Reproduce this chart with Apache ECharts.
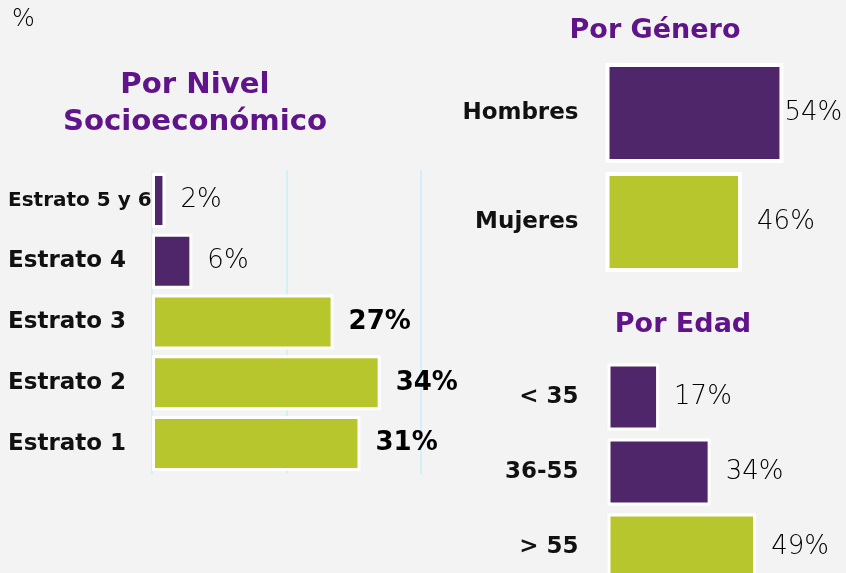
<!DOCTYPE HTML>
<html>
<head>
<meta charset="utf-8">
<title></title>
<style type="text/css">
html, body { margin: 0; padding: 0; background: #f3f3f3; }
#main { width: 846px; height: 573px; }
</style>
</head>
<body>
<div id="main"></div>
<script type="text/javascript" src="https://cdn.jsdelivr.net/npm/echarts@6/dist/echarts.min.js"></script>
<script type="text/javascript">
var nivelCats = ['Estrato 5 y 6', 'Estrato 4', 'Estrato 3', 'Estrato 2', 'Estrato 1'];
var nivelVals = [2, 6, 27, 34, 31];
var generoCats = ['Hombres', 'Mujeres'];
var generoVals = [54, 46];
var edadCats = ['< 35', '36-55', '> 55'];
var edadVals = [17, 34, 49];
var nivelTicks = [0, 20, 40];

var purple = '#4f2669', green = '#b8c62d', titleColor = '#601489';
var font = 'DejaVu Sans';

// colores y estilo de etiqueta por barra
var nivelTone = [purple, purple, green, green, green];
var nivelBold = [false, false, true, true, true];
var generoTone = [purple, green];
var generoGap = [1, 15];
var edadTone = [purple, purple, green];

function valueLabel(bold, gap) {
	return {
		show: true,
		position: 'right',
		distance: gap,
		formatter: '{c}%',
		fontFamily: font,
		fontSize: 26,
		fontWeight: bold ? 'bold' : 200,
		color: '#000'
	};
}

function catAxis(idx, cats, extra) {
	var ax = {
		type: 'category',
		gridIndex: idx,
		data: cats,
		inverse: true,
		axisLine: { show: false },
		axisTick: { show: false },
		axisLabel: {
			fontFamily: font,
			fontSize: 23,
			fontWeight: 'bold',
			color: '#111',
			margin: 29
		}
	};
	if (extra) extra(ax);
	return ax;
}

var option = {
	backgroundColor: '#f3f3f3',
	animation: false,
	title: [{
		text: '%', left: 12, top: 8, padding: 0,
		textStyle: { fontFamily: font, fontSize: 24, fontWeight: 200, color: '#000' }
	}, {
		text: 'Por Nivel\nSocioeconómico', left: 195, top: 67, padding: 0, textAlign: 'center',
		textStyle: { fontFamily: font, fontSize: 29.2, lineHeight: 37, fontWeight: 'bold', color: titleColor }
	}, {
		text: 'Por Género', left: 655, top: 16, padding: 0, textAlign: 'center',
		textStyle: { fontFamily: font, fontSize: 27, lineHeight: 30, fontWeight: 'bold', color: titleColor }
	}, {
		text: 'Por Edad', left: 683, top: 310, padding: 0, textAlign: 'center',
		textStyle: { fontFamily: font, fontSize: 27, lineHeight: 30, fontWeight: 'bold', color: titleColor }
	}],
	grid: [
		{ left: 152, top: 170, width: 269, height: 304, outerBoundsMode: 'none' },
		{ left: 607.5, top: 58.5, width: 207, height: 218, outerBoundsMode: 'none' },
		{ left: 607.5, top: 359.5, width: 182, height: 225, outerBoundsMode: 'none' }
	],
	xAxis: [{
		type: 'value', gridIndex: 0, min: nivelTicks[0], max: nivelTicks[nivelTicks.length - 1], interval: nivelTicks[1] - nivelTicks[0],
		axisLabel: { show: false }, axisLine: { show: false }, axisTick: { show: false },
		splitLine: { show: true, lineStyle: { color: '#c8eefb', width: 1.5 } }
	}, {
		type: 'value', gridIndex: 1, min: 20, max: 60, show: false
	}, {
		type: 'value', gridIndex: 2, min: 0, max: 60, show: false
	}],
	yAxis: [
		catAxis(0, nivelCats, function (ax) {
			ax.axisLabel.align = 'left';
			ax.axisLabel.margin = 144;
			ax.axisLabel.formatter = function (v) {
				return v.length > 10 ? '{s|' + v + '}' : v;
			};
			ax.axisLabel.rich = { s: { fontFamily: font, fontSize: 20, fontWeight: 'bold', color: '#111' } };
		}),
		catAxis(1, generoCats),
		catAxis(2, edadCats)
	],
	series: [{
		type: 'bar', xAxisIndex: 0, yAxisIndex: 0, barWidth: 55,
		itemStyle: { borderColor: '#fff', borderWidth: 3 },
		data: nivelVals.map(function (v, i) {
			return { value: v, itemStyle: { color: nivelTone[i] }, label: valueLabel(nivelBold[i], 15) };
		})
	}, {
		type: 'bar', xAxisIndex: 1, yAxisIndex: 1, barWidth: 100,
		itemStyle: { borderColor: '#fff', borderWidth: 4 },
		data: generoVals.map(function (v, i) {
			return { value: v, itemStyle: { color: generoTone[i] }, label: valueLabel(false, generoGap[i]) };
		})
	}, {
		type: 'bar', xAxisIndex: 2, yAxisIndex: 2, barWidth: 67,
		itemStyle: { borderColor: '#fff', borderWidth: 3 },
		data: edadVals.map(function (v, i) {
			return { value: v, itemStyle: { color: edadTone[i] }, label: valueLabel(false, 15) };
		})
	}]
};

var myChart = echarts.init(document.getElementById('main'));
myChart.setOption(option);
</script>
</body>
</html>
